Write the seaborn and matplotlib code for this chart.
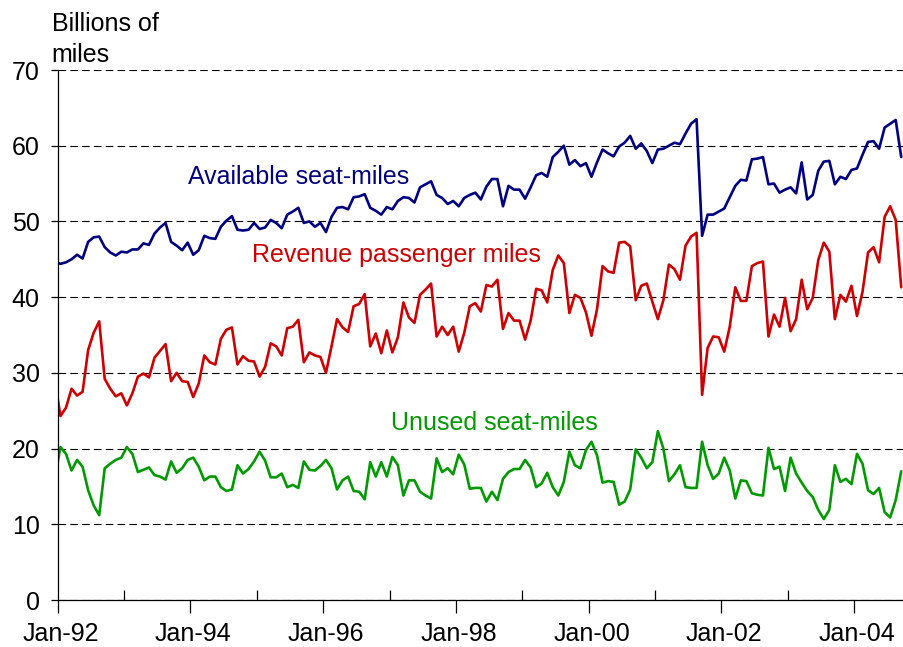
import matplotlib
matplotlib.use("Agg")
import matplotlib.pyplot as plt
import numpy as np
import pandas as pd
import seaborn as sb

# monthly series, Dec-91 .. Sep-04 (the Dec-91 point only shows as the clipped start of each line)
FIRST_MONTH = "1991-12"

AVAILABLE_SEAT_MILES = [
    44.7,
    44.4, 44.6, 45.0, 45.6, 45.1, 47.3, 47.9, 48.0, 46.6, 45.9, 45.5, 46.0,
    45.9, 46.3, 46.3, 47.1, 46.9, 48.4, 49.2, 49.8, 47.3, 46.8, 46.2, 47.2,
    45.6, 46.2, 48.1, 47.8, 47.7, 49.3, 50.1, 50.7, 48.9, 48.8, 48.9, 49.8,
    49.0, 49.2, 50.2, 49.8, 49.1, 50.9, 51.3, 51.8, 49.8, 50.0, 49.3, 49.8,
    48.6, 50.6, 51.8, 51.9, 51.6, 53.2, 53.3, 53.6, 51.8, 51.4, 50.9, 51.9,
    51.6, 52.7, 53.2, 53.1, 52.5, 54.5, 54.9, 55.3, 53.5, 53.1, 52.3, 52.7,
    52.0, 53.1, 53.5, 53.8, 52.9, 54.6, 55.6, 55.6, 52.0, 54.7, 54.2, 54.2,
    53.0, 54.5, 56.1, 56.4, 55.9, 58.5, 59.2, 60.0, 57.5, 58.1, 57.3, 57.7,
    55.9, 57.8, 59.5, 59.0, 58.6, 59.9, 60.4, 61.3, 59.6, 60.3, 59.3, 57.7,
    59.5, 59.6, 60.0, 60.4, 60.2, 61.6, 62.9, 63.5, 48.1, 50.9, 50.9, 51.3,
    51.7, 53.2, 54.7, 55.5, 55.4, 58.2, 58.3, 58.5, 54.9, 55.0, 53.8, 54.2,
    54.5, 53.7, 57.8, 52.9, 53.5, 56.7, 57.9, 58.0, 54.9, 55.9, 55.6, 56.8,
    57.0, 58.8, 60.5, 60.6, 59.6, 62.4, 62.9, 63.4, 58.5,
]

REVENUE_PASSENGER_MILES = [
    28.9,
    24.3, 25.4, 27.9, 27.0, 27.5, 33.0, 35.3, 36.8, 29.2, 27.9, 26.9, 27.3,
    25.7, 27.3, 29.5, 29.9, 29.4, 32.0, 32.9, 33.8, 28.9, 30.0, 28.9, 28.8,
    26.8, 28.6, 32.3, 31.4, 31.1, 34.5, 35.7, 36.0, 31.1, 32.2, 31.6, 31.5,
    29.5, 30.8, 33.9, 33.5, 32.3, 35.9, 36.1, 37.0, 31.4, 32.7, 32.3, 32.1,
    30.0, 33.5, 37.1, 36.0, 35.4, 38.8, 39.1, 40.4, 33.5, 35.2, 32.6, 35.6,
    32.7, 34.7, 39.3, 37.3, 36.6, 40.3, 41.0, 41.8, 34.8, 36.1, 35.0, 36.1,
    32.8, 35.3, 38.8, 39.2, 38.1, 41.6, 41.4, 42.3, 35.8, 37.9, 36.9, 36.9,
    34.4, 36.9, 41.1, 40.9, 39.3, 43.6, 45.5, 44.5, 37.9, 40.3, 39.9, 38.0,
    34.9, 38.4, 44.1, 43.4, 43.2, 47.2, 47.3, 46.7, 39.6, 41.5, 41.8, 39.4,
    37.1, 39.6, 44.3, 43.7, 42.3, 46.8, 48.0, 48.5, 27.1, 33.3, 34.8, 34.7,
    32.8, 36.1, 41.3, 39.5, 39.5, 44.1, 44.5, 44.7, 34.8, 37.7, 36.1, 39.9,
    35.5, 37.1, 42.3, 38.4, 39.9, 44.9, 47.2, 46.0, 37.1, 40.3, 39.4, 41.5,
    37.5, 40.7, 45.9, 46.6, 44.6, 50.6, 52.0, 50.2, 41.3,
]

UNUSED_SEAT_MILES = [
    16.2,
    20.2, 19.3, 17.1, 18.5, 17.6, 14.5, 12.5, 11.2, 17.4, 18.0, 18.5, 18.8,
    20.2, 19.3, 16.9, 17.2, 17.5, 16.5, 16.3, 15.9, 18.3, 16.8, 17.4, 18.5,
    18.8, 17.6, 15.8, 16.3, 16.3, 14.9, 14.4, 14.6, 17.8, 16.7, 17.3, 18.3,
    19.6, 18.4, 16.2, 16.2, 16.7, 14.9, 15.2, 14.8, 18.3, 17.2, 17.1, 17.7,
    18.5, 17.4, 14.6, 15.8, 16.3, 14.4, 14.3, 13.3, 18.2, 16.3, 18.2, 16.3,
    18.9, 17.8, 13.8, 15.8, 15.8, 14.3, 13.8, 13.4, 18.7, 16.9, 17.4, 16.6,
    19.2, 17.9, 14.7, 14.8, 14.8, 13.0, 14.3, 13.2, 16.0, 16.9, 17.3, 17.3,
    18.5, 17.5, 14.9, 15.4, 16.8, 14.9, 13.8, 15.6, 19.6, 17.8, 17.4, 19.8,
    20.9, 19.1, 15.5, 15.7, 15.6, 12.6, 13.0, 14.6, 19.9, 18.8, 17.4, 18.2,
    22.3, 20.0, 15.7, 16.6, 17.8, 14.9, 14.8, 14.8, 20.9, 17.8, 16.0, 16.7,
    18.8, 17.1, 13.4, 15.8, 15.7, 14.1, 13.9, 13.8, 20.1, 17.3, 17.6, 14.4,
    18.8, 16.7, 15.5, 14.4, 13.6, 11.9, 10.7, 11.9, 17.8, 15.6, 16.0, 15.3,
    19.3, 18.0, 14.5, 14.0, 14.8, 11.6, 10.9, 13.2, 17.0,
]

TICK_LABELS = ["Jan-92", "Jan-94", "Jan-96", "Jan-98", "Jan-00", "Jan-02", "Jan-04"]
Y_TICKS = [0, 10, 20, 30, 40, 50, 60, 70]

NAVY = "#000080"
RED = "#CC0000"
GREEN = "#009900"
SERIES = {
    "Available seat-miles": (AVAILABLE_SEAT_MILES, NAVY),
    "Revenue passenger miles": (REVENUE_PASSENGER_MILES, RED),
    "Unused seat-miles": (UNUSED_SEAT_MILES, GREEN),
}

sb.set_theme(style="white")
plt.rcParams["font.family"] = ["Liberation Sans", "DejaVu Sans"]
plt.rcParams["lines.scale_dashes"] = False
for key in ["text.color", "axes.labelcolor", "xtick.color", "ytick.color"]:
    plt.rcParams[key] = "black"

months = pd.period_range(FIRST_MONTH, periods=len(AVAILABLE_SEAT_MILES), freq="M")
start = pd.Period("1992-01", freq="M")
month_pos = np.array([(m - start).n for m in months])

frames = []
for name, (vals, _) in SERIES.items():
    frames.append(pd.DataFrame({"pos": month_pos, "value": vals, "series": name}))
df = pd.concat(frames, ignore_index=True)

W, H = 904, 647
fig = plt.figure(figsize=(W / 100, H / 100), dpi=100)
left_px, bottom_px, top_px = 57.7, 600, 70
ax = fig.add_axes([left_px / W, (H - bottom_px) / H, 1 - left_px / W, (bottom_px - top_px) / H])

sb.lineplot(data=df, x="pos", y="value", hue="series",
            palette={k: c for k, (_, c) in SERIES.items()},
            legend=False, ax=ax, linewidth=1.9)

n_last = month_pos[-1]
ax.set_xlim(-0.5, n_last + 0.5)
ax.set_ylim(0, 70)

ax.set_axisbelow(True)
ax.yaxis.grid(True, color="black", linewidth=0.8, linestyle=(0, (5.5, 3.0)))
ax.xaxis.grid(False)
for s in ["top", "right"]:
    ax.spines[s].set_visible(False)
for s in ["left", "bottom"]:
    ax.spines[s].set_color("black")
    ax.spines[s].set_linewidth(0.9)

ax.set_yticks(Y_TICKS)
ax.tick_params(axis="y", direction="out", length=5, width=0.9, color="black",
               labelsize=18, pad=8, left=True, labelcolor="black")
ax.set_xlabel("")
ax.set_ylabel("")

# tick marks sit on year boundaries: labelled years outward, the others inward
label_pos = np.arange(0, 24 * len(TICK_LABELS), 24)
ax.set_xticks(label_pos - 0.5)
ax.set_xticklabels([])
ax.set_xticks(label_pos[:-1] + 11.5, minor=True)
ax.tick_params(axis="x", which="major", direction="out", length=9, width=0.9,
               color="black", bottom=True)
ax.tick_params(axis="x", which="minor", direction="in", length=7, width=0.9,
               color="black", bottom=True)

sec = ax.secondary_xaxis("bottom")
sec.set_xticks(label_pos)
sec.set_xticklabels(TICK_LABELS)
sec.tick_params(length=0, labelsize=18, pad=16, labelcolor="black")
sec.spines["bottom"].set_visible(False)

ax.text(23.1, 55.0, "Available seat-miles", color=NAVY, fontsize=18, va="baseline")
ax.text(34.6, 44.6, "Revenue passenger miles", color=RED, fontsize=18, va="baseline")
ax.text(59.7, 22.45, "Unused seat-miles", color=GREEN, fontsize=18, va="baseline")

fig.text(51.7 / W, 1 - 31 / H, "Billions of", fontsize=18, va="baseline", color="black")
fig.text(51.7 / W, 1 - 62 / H, "miles", fontsize=18, va="baseline", color="black")

fig.savefig("out.png", dpi=100)
